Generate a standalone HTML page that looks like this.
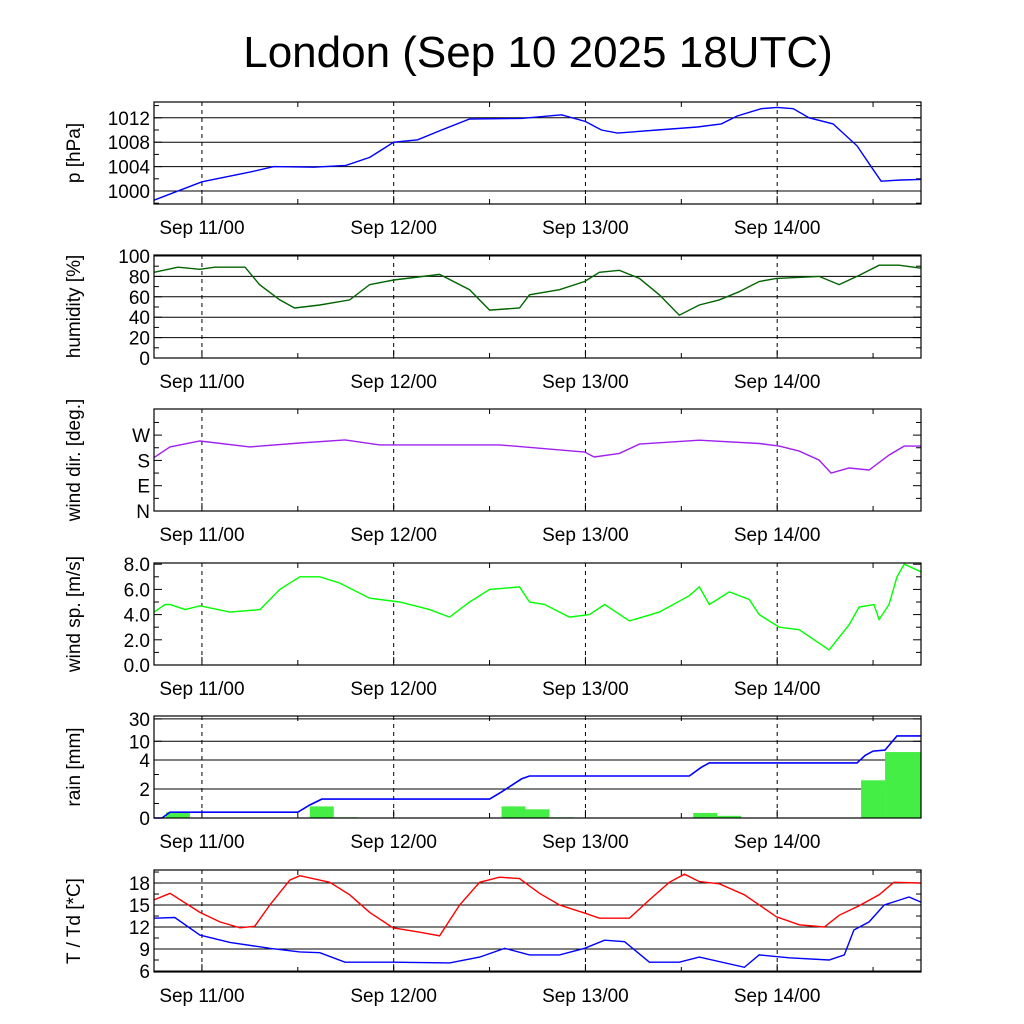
<!DOCTYPE html>
<html><head><meta charset="utf-8"><style>
body{margin:0;background:#fff;}
svg{display:block;font-family:"Liberation Sans",sans-serif;}
</style></head><body>
<svg id="c" width="1024" height="1024" viewBox="0 0 1024 1024">
<text x="538" y="67" font-size="44" text-anchor="middle">London (Sep 10 2025 18UTC)</text>
</svg>
<script>
const dayLabels=["Sep 11/00","Sep 12/00","Sep 13/00","Sep 14/00"];
const dayHours=[6,30,54,78];
const pHours=[0,6,12,15,20,24,27,30,33,36,39.5,46,51,54,56,58,63,68,71,73,76,78,80,82,85,88,89.6,91,93.5,96];
const pVals=[998.5,1001.5,1003.1,1004,1003.9,1004.2,1005.5,1008,1008.4,1010,1011.8,1011.9,1012.5,1011.4,1010,1009.5,1010,1010.5,1011,1012.3,1013.5,1013.7,1013.5,1012,1011,1007.4,1004.3,1001.6,1001.8,1001.9];
const pTicks=[1000,1004,1008,1012];
const hHours=[0,3,5.75,7.6,11.4,13.2,15.75,17.6,20.75,24.5,27,30,35.75,39.5,42,45.75,47,50.75,53.9,55.75,58.25,60.75,63.25,65.75,68.25,70.75,73.25,75.75,77.9,83.25,85.75,88.25,90.75,93.25,96];
const hVals=[84,89,87,89,89,72,57,49,52,57,72,76.5,82,67,47,49,62,67,75,84,86,78,62,42,52,57,65,75,78,80,72,81,91,91,88];
const hTicks=[0,20,40,60,80,100];
const dHours=[0,2,5.75,12,18.25,23.9,28.25,43.25,53.9,55.1,58.25,60.75,68.25,75.75,78.25,80.75,83.25,84.75,87,89.5,92,93.9,96];
const dVals=[190,228,249,228,242,253,235,235,210,192,205,238,252,240,231,213,181,135,153,146,199,231,231];
const dTicks=[0,90,180,270];
const dTickLabels=["N","E","S","W"];
const sHours=[0,1.4,2,3.9,5.75,9.5,13.25,15.75,18.25,20.75,23.25,27,30.75,34.5,37,39.5,42,45.75,47,48.9,52,54.5,56.4,59.5,63.25,67,68.25,69.5,72,74.5,75.75,78.25,80.75,84.5,87,88.25,90.1,90.75,92,93,93.9,96];
const sVals=[4.2,4.8,4.8,4.4,4.7,4.2,4.4,6.0,7.0,7.0,6.5,5.3,5.0,4.4,3.8,5.0,6.0,6.2,5.0,4.8,3.8,4.0,4.8,3.5,4.2,5.5,6.2,4.8,5.8,5.2,4.0,3.0,2.8,1.2,3.2,4.6,4.8,3.6,4.8,7.0,8.0,7.4];
const sTicks=[0,2,4,6,8];
const rHours=[0,1,2,18,19.5,21,42,43.5,46,47,67,68.5,69.5,88,89,90,91.5,93,96];
const rVals=[0,0,0.4,0.4,0.9,1.3,1.3,1.8,2.7,2.9,2.9,3.5,3.8,3.8,5.0,6.2,6.5,13,13];
const barStart=[1.5,19.5,22.5,43.5,46.5,49.5,67.5,70.5,88.5,91.5];
const barEnd=[4.5,22.5,25.5,46.5,49.5,52.5,70.5,73.5,91.5,96];
const barAmount=[0.4,0.8,0.05,0.8,0.6,0.05,0.35,0.15,2.6,5.9];
const rTicks=[0,2,4,10,30];
const tHours=[0,2,5.75,8.25,10.75,12.6,14.5,17,18.25,22,24.5,27,29.9,33.25,35.75,38.25,40.75,43.25,45.75,48.25,50.75,53.9,55.75,59.5,62,64.5,66.4,68.25,70.75,73.9,77.9,80.75,83.9,85.75,88.25,90.75,92.6,96];
const tVals=[15.7,16.6,14,12.7,11.9,12.1,15,18.4,19,18.1,16.4,14,11.9,11.3,10.8,15,18.1,18.8,18.6,16.6,15,13.9,13.2,13.2,15.7,18.1,19.2,18.2,17.9,16.4,13.4,12.3,12.0,13.6,14.9,16.4,18.1,18.0];
const tdHours=[0,2.6,5.75,9.5,14.5,18.25,20.75,23.9,29.9,37,40.75,43.9,47,50.75,53.9,56.4,58.9,62,65.75,68.25,73.9,75.75,79.5,84.5,86.4,87.6,89.5,91.4,94.5,96];
const tdVals=[13.2,13.3,10.9,9.9,9.1,8.6,8.5,7.2,7.2,7.1,7.9,9.1,8.2,8.2,9.1,10.2,10.0,7.2,7.2,7.9,6.5,8.2,7.8,7.5,8.2,11.6,12.7,15,16.1,15.4];
const tTicks=[6,9,12,15,18];

const svg=document.getElementById('c');
const NS='http://www.w3.org/2000/svg';
const X0=154,X1=921,HTOT=96;
function xs(h){return X0+(X1-X0)*h/HTOT;}
function mk(tag,at,parent){const e=document.createElementNS(NS,tag);for(const k in at)e.setAttribute(k,at[k]);(parent||svg).appendChild(e);return e;}

function panel(name,top,bot,ys,ticks,labels,grid,title,minor){
  const g=mk('g',{});
  
  
  ticks.forEach((t,i)=>{
    const y=ys(t);
    if(grid){const l=mk('line',{x1:X0,x2:X1,y1:y,y2:y,stroke:'#000','stroke-width':1},g);
      }
    mk('line',{x1:X0,x2:X0+8,y1:y,y2:y,stroke:'#000'},g);
    mk('line',{x1:X1-8,x2:X1,y1:y,y2:y,stroke:'#000'},g);
    const tx=mk('text',{x:X0-4,y:y+7,'font-size':19,'text-anchor':'end'},g);
    tx.textContent=labels?labels[i]:String(t);
    
    
  });
  (minor||[]).forEach(t=>{const y=ys(t);mk('line',{x1:X0,x2:X0+5,y1:y,y2:y,stroke:'#000'},g);mk('line',{x1:X1-5,x2:X1,y1:y,y2:y,stroke:'#000'},g);});
  dayHours.forEach((h,i)=>{
    const x=xs(h);
    const l=mk('line',{x1:x,x2:x,y1:top,y2:bot,stroke:'#000','stroke-dasharray':'4,4'},g);
    
    const t=mk('text',{x:x,y:bot+30,'font-size':19,'text-anchor':'middle'},g);
    t.textContent=dayLabels[i];
    
    mk('line',{x1:x,x2:x,y1:bot-8,y2:bot,stroke:'#000'},g);
  });
  for(let h=18;h<HTOT;h+=24){const x=xs(h);mk('line',{x1:x,x2:x,y1:bot-5,y2:bot,stroke:'#000'},g);mk('line',{x1:x,x2:x,y1:top,y2:top+5,stroke:'#000'},g);}
  const yt=mk('text',{transform:`translate(80,${(top+bot)/2}) rotate(-90)`,'font-size':19,'text-anchor':'middle'},g);
  yt.textContent=title;
  
  return g;
}
function frame(g,top,bot){mk('rect',{x:X0,y:top,width:X1-X0,height:bot-top,fill:'none',stroke:'#000','stroke-width':1.2},g);}
function line(g,hs,vs,ys,color,name,w){
  const d=hs.map((h,i)=>(i?'L':'M')+xs(h).toFixed(1)+','+ys(vs[i]).toFixed(1)).join('');
  const p=mk('path',{d:d,fill:'none',stroke:color,'stroke-width':w||1.4},g);
  
}
{const top=102,bot=204;const ys=v=>191-(v-1000)*6.1;
 const g=panel('pressure',top,bot,ys,pTicks,null,true,'p [hPa]',[998,1002,1006,1010,1014]);
 line(g,pHours,pVals,ys,'#0000ff','pressure-line');frame(g,top,bot);}
{const top=255,bot=358;const ys=v=>358-v*1.02;
 const g=panel('humidity',top,bot,ys,hTicks,null,true,'humidity [%]',[10,30,50,70,90]);
 line(g,hHours,hVals,ys,'#006400','humidity-line');frame(g,top,bot);}
{const top=409,bot=511;const ys=v=>511-v*0.2811;
 const g=panel('wind-dir',top,bot,ys,dTicks,dTickLabels,false,'wind dir. [deg.]',[45,135,225,315]);
 line(g,dHours,dVals,ys,'#a020f0','wind-dir-line');frame(g,top,bot);}
{const top=563,bot=665;const ys=v=>665-v*12.6;
 const g=panel('wind-speed',top,bot,ys,sTicks,sTicks.map(v=>v.toFixed(1)),false,'wind sp. [m/s]',[1,3,5,7]);
 line(g,sHours,sVals,ys,'#00ff00','wind-speed-line');frame(g,top,bot);}
{const top=716,bot=818;const ys=v=>v<=4?818-v*14.5:760-Math.log10(v/4)*47;
 const g=panel('rain',top,bot,ys,rTicks,null,true,'rain [mm]',[1,3]);
 barStart.forEach((s,i)=>{const y=ys(barAmount[i]);
   const r=mk('rect',{x:xs(s),y:y,width:xs(barEnd[i])-xs(s),height:bot-y,fill:'#44ee44'},g);
   });
 line(g,rHours,rVals,ys,'#0000ff','cumulative-rain-line',1.6);frame(g,top,bot);}
{const top=870,bot=972;const ys=v=>971-(v-6)*7.33;
 const g=panel('temperature',top,bot,ys,tTicks,null,true,'T / Td [*C]',[7.5,10.5,13.5,16.5,19.5]);
 line(g,tHours,tVals,ys,'#ff0000','temperature-line');
 line(g,tdHours,tdVals,ys,'#0000ff','dewpoint-line');frame(g,top,bot);}
</script>
</body></html>
